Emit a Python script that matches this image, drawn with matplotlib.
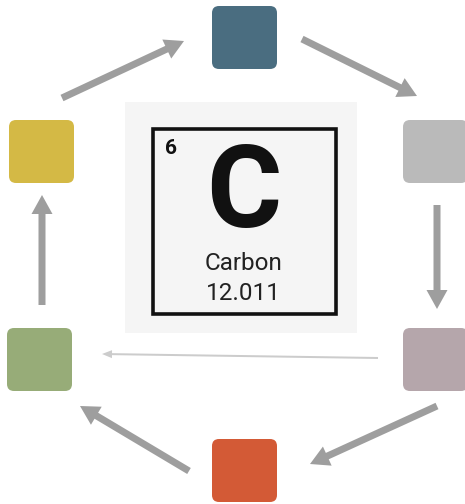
import matplotlib
matplotlib.use("Agg")
import matplotlib.pyplot as plt
from matplotlib.patches import FancyBboxPatch, FancyArrow, Rectangle

# Data
node_names = ["top", "right_upper", "right_lower", "bottom", "left_lower", "left_upper"]
node_colors = ["#4a6d80", "#bababa", "#b5a6ab", "#d35a36", "#97ac78", "#d4b945"]
element_number = "6"
element_symbol = "C"
element_name = "Carbon"
element_mass = "12.011"

# Layout (pixel coordinates, y down)
node_boxes = {
    "top": (212, 6),
    "right_upper": (403, 120),
    "right_lower": (403, 328),
    "bottom": (212, 439),
    "left_lower": (7, 328),
    "left_upper": (9, 120),
}
box_w, box_h = 65, 63

arrows = [
    # (x0, y0, x1, y1, thick)
    (62, 98, 184, 41, True),
    (302, 39, 417, 96, True),
    (437, 205, 437, 309, True),
    (378, 358, 102, 354, False),
    (437, 406, 310, 464, True),
    (189, 471, 80, 406, True),
    (42, 305, 42, 195, True),
]

fig = plt.figure(figsize=(4.65, 5.04), dpi=100)
ax = fig.add_axes([0, 0, 1, 1])
ax.set_xlim(0, 465)
ax.set_ylim(504, 0)
ax.axis("off")

for name, color in zip(node_names, node_colors):
    x, y = node_boxes[name]
    ax.add_patch(FancyBboxPatch((x + 7, y + 7), box_w - 14, box_h - 14,
                                boxstyle="round,pad=7", fc=color, ec="none"))

for x0, y0, x1, y1, thick in arrows:
    if thick:
        ax.add_patch(FancyArrow(x0, y0, x1 - x0, y1 - y0, width=7, head_width=21,
                                head_length=19, length_includes_head=True,
                                fc="#9e9e9e", ec="none"))
    else:
        ax.add_patch(FancyArrow(x0, y0, x1 - x0, y1 - y0, width=2, head_width=8,
                                head_length=10, length_includes_head=True,
                                fc="#cccccc", ec="none"))

# central element card
ax.add_patch(Rectangle((125, 102), 232, 231, fc="#f5f5f5", ec="none"))
ax.add_patch(Rectangle((152.5, 128.5), 183, 185, fc="none", ec="#111111", lw=2.6))

ax.text(165, 148, element_number, fontsize=15, fontweight="bold", family="Roboto",
        color="#111111", ha="left", va="center")
ax.text(244, 195, element_symbol, fontsize=83, fontweight="bold", family="Roboto",
        color="#111111", ha="center", va="center")
ax.text(244, 263, element_name, fontsize=17.5, family="Roboto",
        color="#222222", ha="center", va="center")
ax.text(243, 293, element_mass, fontsize=17.5, family="Roboto",
        color="#222222", ha="center", va="center")

fig.savefig("out.png", dpi=100, facecolor="white")
